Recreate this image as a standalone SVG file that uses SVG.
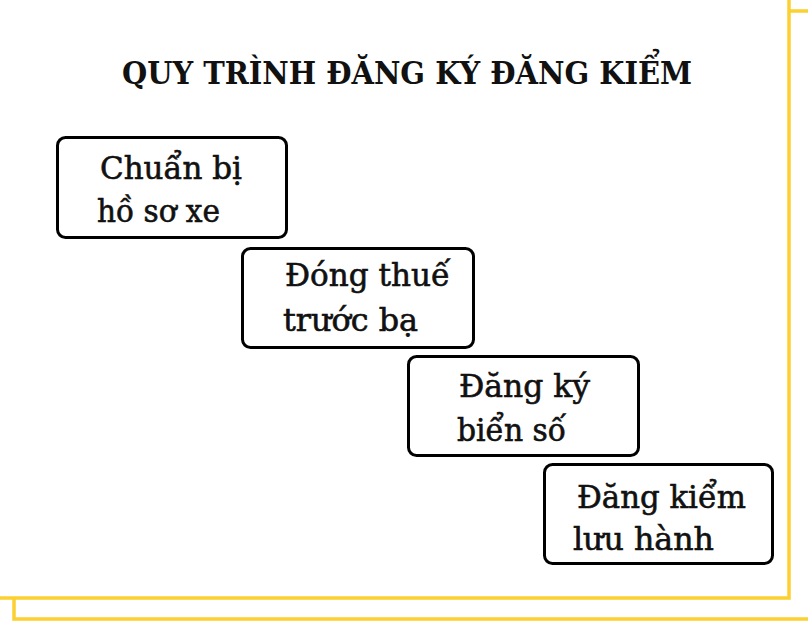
<svg xmlns="http://www.w3.org/2000/svg" width="808" height="632" viewBox="0 0 808 632">
<style>
.frame{fill:#fff;stroke:#fcd030;stroke-width:3.5}
.box{fill:#fff;stroke:#000;stroke-width:3}
.t{font-family:"DejaVu Serif","Liberation Serif",serif;font-size:31px;fill:#111;stroke:#111;stroke-width:0.6}
.title{font-family:"DejaVu Serif","Liberation Serif",serif;font-size:32px;font-weight:bold;fill:#111}
</style>
<rect width="808" height="632" fill="#fff"/>
<rect class="frame" x="14" y="11" width="820" height="608"/>
<rect class="frame" x="-20" y="-20" width="809" height="618"/>
<text class="title" x="122" y="84" textLength="570" lengthAdjust="spacingAndGlyphs">QUY TRÌNH ĐĂNG KÝ ĐĂNG KIỂM</text>
<g id="connectors"></g>
<g id="node1">
<rect class="box" x="57.5" y="137.5" width="229" height="100" rx="8"/>
<text class="t" x="100" y="179" textLength="142" lengthAdjust="spacingAndGlyphs">Chuẩn bị</text>
<text class="t" x="97" y="222" textLength="123" lengthAdjust="spacingAndGlyphs">hồ sơ xe</text>
</g>
<g id="node2">
<rect class="box" x="242.5" y="248.5" width="231" height="99" rx="8"/>
<text class="t" x="285" y="286" textLength="165" lengthAdjust="spacingAndGlyphs">Đóng thuế</text>
<text class="t" x="283" y="331" textLength="135" lengthAdjust="spacingAndGlyphs">trước bạ</text>
</g>
<g id="node3">
<rect class="box" x="408.5" y="356.5" width="230" height="99" rx="8"/>
<text class="t" x="459" y="397" textLength="131" lengthAdjust="spacingAndGlyphs">Đăng ký</text>
<text class="t" x="457" y="441" textLength="109" lengthAdjust="spacingAndGlyphs">biển số</text>
</g>
<g id="node4">
<rect class="box" x="544.5" y="464.5" width="228" height="99" rx="8"/>
<text class="t" x="577" y="508" textLength="169" lengthAdjust="spacingAndGlyphs">Đăng kiểm</text>
<text class="t" x="573" y="550" textLength="141" lengthAdjust="spacingAndGlyphs">lưu hành</text>
</g>
</svg>
